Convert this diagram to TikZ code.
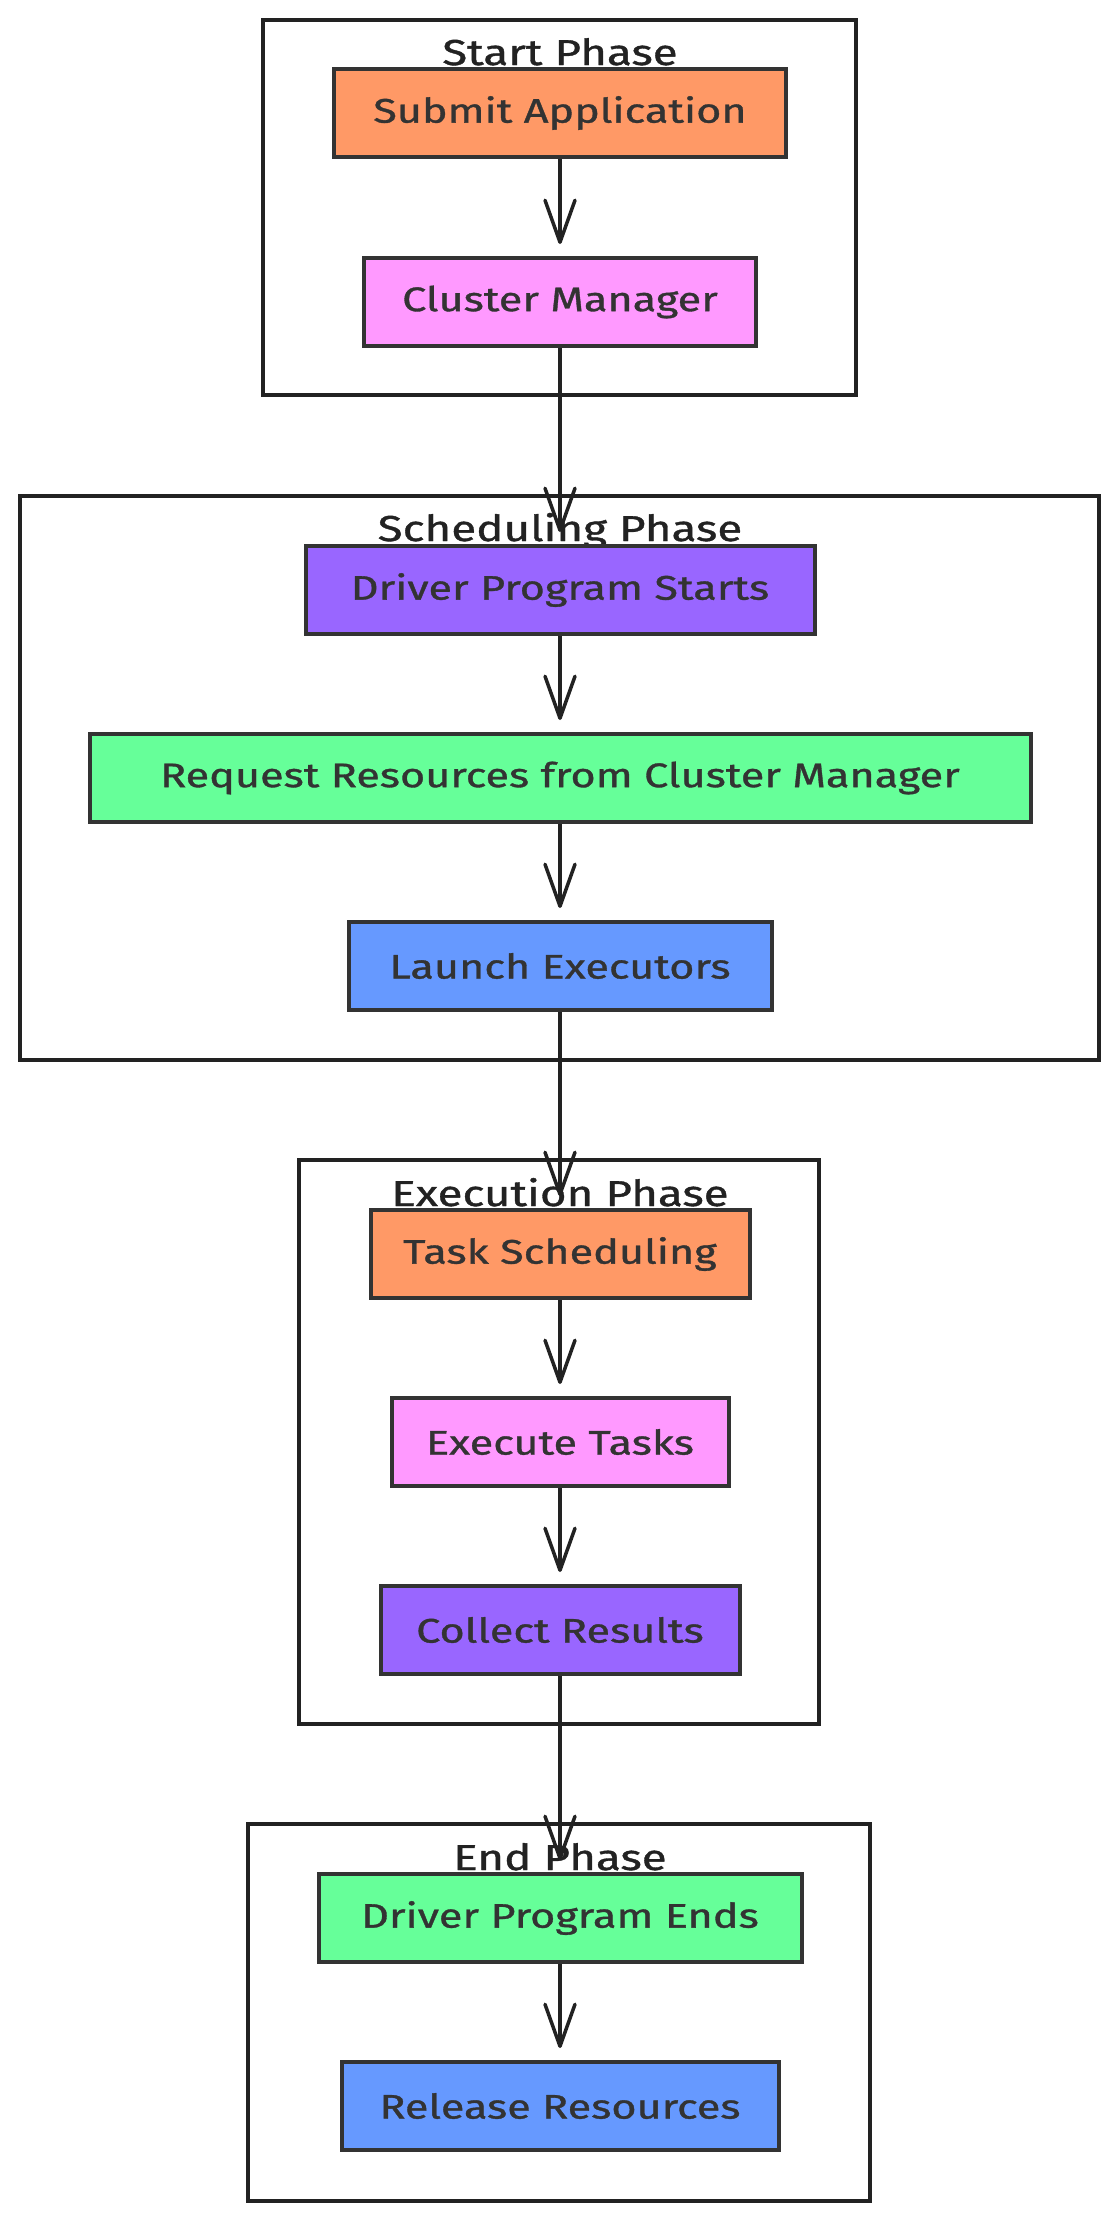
\documentclass[tikz,border=0pt]{standalone}
\usepackage{fontspec}
\setmainfont[FakeStretch=1.27,FakeBold=1.0]{Fira Sans}
\usetikzlibrary{arrows.meta}
\definecolor{corange}{HTML}{FF9966}
\definecolor{cpink}{HTML}{FF99FF}
\definecolor{cpurple}{HTML}{9966FF}
\definecolor{cgreen}{HTML}{66FF99}
\definecolor{cblue}{HTML}{6699FF}
\definecolor{strokec}{HTML}{333333}
\definecolor{clusterc}{HTML}{222222}
\definecolor{textc}{HTML}{333333}
\begin{document}
\begin{tikzpicture}[x=1pt,y=-1pt,
  proc/.style={draw=strokec, line width=4pt, minimum height=88pt, inner sep=0pt,
    font=\fontsize{34}{40}\selectfont, text=textc},
  phase/.style={draw=clusterc, line width=3.5pt},
  plabel/.style={font=\fontsize{36}{42}\selectfont, anchor=base, text=clusterc, inner sep=0pt},
  arr/.style={draw=clusterc, line width=3.5pt,
    -{Straight Barb[length=42pt,width=30pt,round]}, shorten >=12pt}]
\useasboundingbox (0,0) rectangle (1119,2220);
\fill[white] (0,0) rectangle (1119,2220);

% clusters
\draw[phase] (263,20) rectangle (856,395);
\draw[phase] (20,496) rectangle (1099,1060);
\draw[phase] (299,1160) rectangle (819,1724);
\draw[phase] (248,1824) rectangle (870,2201);

\node[plabel] (lstart) at (560,65) {Start Phase};
\node[plabel] (lsched) at (560,541) {Scheduling Phase};
\node[plabel] (lexec) at (560,1206) {Execution Phase};
\node[plabel] (lend) at (560,1870) {End Phase};

% nodes
\node[proc, fill=corange, minimum width=452pt] (sub) at (560,113) {Submit Application};
\node[proc, fill=cpink, minimum width=392pt] (clu) at (560,302) {Cluster Manager};
\node[proc, fill=cpurple, minimum width=509pt] (dps) at (560,590) {Driver Program Starts};
\node[proc, fill=cgreen, minimum width=941pt] (req) at (560,778) {Request Resources from Cluster Manager};
\node[proc, fill=cblue, minimum width=423pt] (lau) at (560,966) {Launch Executors};
\node[proc, fill=corange, minimum width=379pt] (tsk) at (560,1254) {Task Scheduling};
\node[proc, fill=cpink, minimum width=337pt] (ext) at (560,1442) {Execute Tasks};
\node[proc, fill=cpurple, minimum width=359pt] (col) at (560,1630) {Collect Results};
\node[proc, fill=cgreen, minimum width=483pt] (dpe) at (560,1918) {Driver Program Ends};
\node[proc, fill=cblue, minimum width=437pt] (rel) at (560,2106) {Release Resources};

% connectors
\draw[arr] (sub) -- (clu);
\draw[arr] (clu) -- (dps);
\draw[arr] (dps) -- (req);
\draw[arr] (req) -- (lau);
\draw[arr] (lau) -- (tsk);
\draw[arr] (tsk) -- (ext);
\draw[arr] (ext) -- (col);
\draw[arr] (col) -- (dpe);
\draw[arr] (dpe) -- (rel);
\end{tikzpicture}
\end{document}
